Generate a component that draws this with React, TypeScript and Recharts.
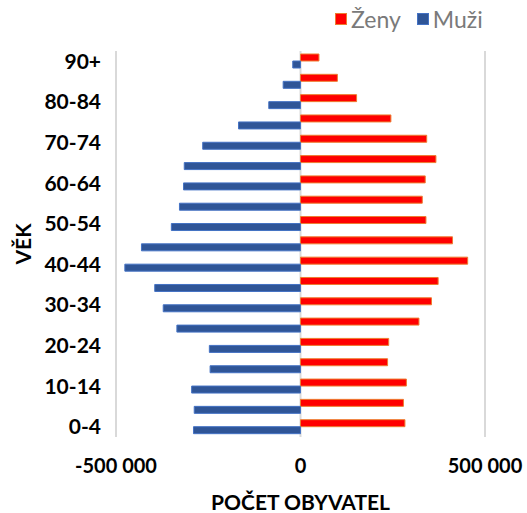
import { Bar, BarChart, CartesianGrid, Legend, ReferenceLine, XAxis, YAxis } from "recharts";

const ageGroups = [
  "0-4", "5-9", "10-14", "15-19", "20-24", "25-29", "30-34", "35-39", "40-44", "45-49",
  "50-54", "55-59", "60-64", "65-69", "70-74", "75-79", "80-84", "85-89", "90+",
];
const women = [
  283000, 279000, 287000, 236000, 239000, 321000, 355000, 373000, 453000, 412000,
  340000, 330000, 338000, 367000, 342000, 245000, 152000, 100000, 50000,
];
const men = [
  -290000, -288000, -295000, -245000, -247000, -335000, -372000, -395000, -476000, -431000,
  -350000, -328000, -317000, -315000, -265000, -168000, -86000, -47000, -21000,
];
const xTicks = [-500000, 0, 500000];
const legendOrder = ["Ženy", "Muži"];

const data = ageGroups.map((age, i) => ({ age, zeny: women[i], muzi: men[i] }));

const FONT = "Lato, 'Open Sans', sans-serif";

const formatTick = (v: number): string => {
  if (v === 0) return "0";
  const s = String(Math.abs(v)).replace(/\B(?=(\d{3})+(?!\d))/g, " ");
  return v < 0 ? `-${s}` : s;
};

const renderLegend = (props: any) => {
  const items = [...(props.payload || [])].sort(
    (a: any, b: any) => legendOrder.indexOf(a.value) - legendOrder.indexOf(b.value)
  );
  return (
    <div
      style={{
        display: "flex",
        alignItems: "center",
        height: 30,
        fontFamily: FONT,
        fontSize: 23,
        color: "#7a7a7a",
      }}
    >
      {items.map((it: any) => (
        <div key={it.value} style={{ display: "flex", alignItems: "center", marginRight: 16 }}>
          <span
            style={{
              display: "inline-block",
              width: 10,
              height: 10,
              background: it.payload.fill,
              border: `1px solid ${it.payload.stroke}`,
              marginRight: 4,
            }}
          />
          <span>{it.value}</span>
        </div>
      ))}
    </div>
  );
};

export default function App() {
  return (
    <div style={{ position: "absolute", left: 0, top: 0, width: 527, height: 513, background: "#fff" }}>
      <BarChart
        width={527}
        height={513}
        data={data}
        layout="vertical"
        barSize={7}
        barGap={0}
        margin={{ top: 21, right: 42, bottom: 0, left: 0 }}
      >
        <CartesianGrid horizontal={false} stroke="#d9d9d9" strokeWidth={2} />
        <ReferenceLine x={-500000} stroke="#d9d9d9" strokeWidth={2} />
        <XAxis
          type="number"
          domain={[-500000, 500000]}
          ticks={xTicks}
          tickFormatter={formatTick}
          axisLine={false}
          tickLine={false}
          tickSize={0}
          tickMargin={22}
          height={76}
          tick={{ fill: "#000", fontSize: 20, fontWeight: 700, fontFamily: FONT }}
          label={{
            content: (p: any) => {
              const vb = p.viewBox;
              return (
                <text
                  x={vb.x + vb.width / 2}
                  y={vb.y + vb.height - 3}
                  textAnchor="middle"
                  fontFamily={FONT}
                  fontSize={21}
                  fontWeight={700}
                  fill="#000"
                >
                  POČET OBYVATEL
                </text>
              );
            },
          }}
        />
        <YAxis
          type="category"
          dataKey="age"
          reversed
          interval={1}
          width={116}
          axisLine={false}
          tickLine={false}
          tickSize={0}
          tickMargin={15}
          tick={{ fill: "#000", fontSize: 21, fontWeight: 700, fontFamily: FONT }}
          label={{
            content: (p: any) => {
              const vb = p.viewBox;
              const cx = 22;
              const cy = vb.y + vb.height / 2;
              return (
                <text
                  x={cx}
                  y={cy}
                  transform={`rotate(-90 ${cx} ${cy})`}
                  textAnchor="middle"
                  dominantBaseline="central"
                  fontFamily={FONT}
                  fontSize={21}
                  fontWeight={700}
                  fill="#000"
                >
                  VĚK
                </text>
              );
            },
          }}
        />
        <Legend
          layout="horizontal"
          verticalAlign="top"
          align="left"
          content={renderLegend}
          wrapperStyle={{ top: 4, left: 335, width: "auto", height: 30 }}
        />
        <Bar dataKey="zeny" name="Ženy" fill="#ff0000" stroke="#ed7d31" strokeWidth={1} isAnimationActive={false} />
        <Bar dataKey="muzi" name="Muži" fill="#2f5597" stroke="#4472c4" strokeWidth={1} isAnimationActive={false} />
      </BarChart>
    </div>
  );
}
